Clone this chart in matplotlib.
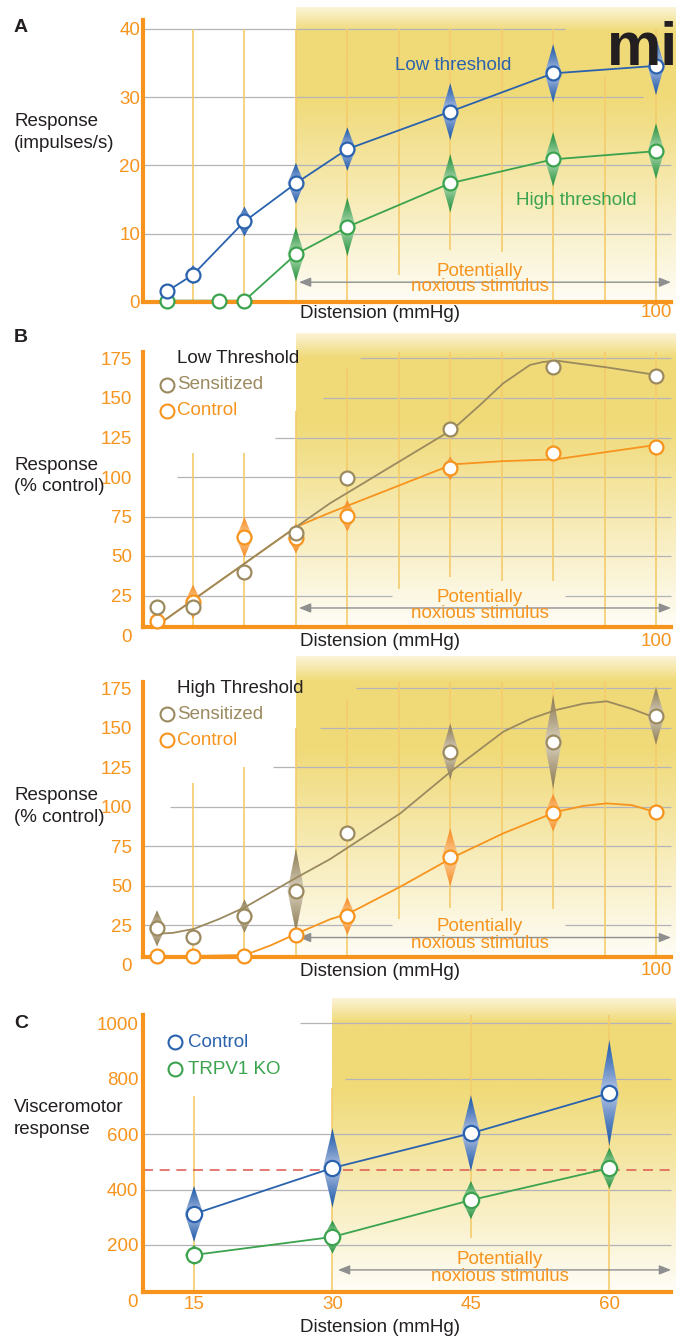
import numpy as np
import matplotlib
matplotlib.use('Agg')
import matplotlib.pyplot as plt
from matplotlib.patches import Polygon
from matplotlib.colors import to_rgb

plt.rcParams['font.family'] = ['Liberation Sans', 'DejaVu Sans']

# ---------------- data ----------------
# Panel A : afferent firing (impulses/s)
a_low_x = [5, 10, 20, 30, 40, 60, 80, 100]
a_low_y = [1.6, 4.0, 11.8, 17.4, 22.4, 27.9, 33.5, 34.6]
a_low_err = [0, 1.4, 2.2, 3.0, 3.2, 4.2, 4.3, 4.3]
a_high_x = [5, 15, 20, 30, 40, 60, 80, 100]
a_high_y = [0.2, 0.2, 0.2, 7.0, 11.0, 17.4, 20.9, 22.1]
a_high_err = [0, 0, 0, 4.0, 4.3, 4.3, 4.0, 4.1]
a_yticks = [0, 10, 20, 30, 40]
a_xticks = [100]

# Panel B : response (% control)
b_x = [3, 10, 20, 30, 40, 60, 80, 100]
bl_sens = [17.5, 17.9, 39.7, 64.8, 99.6, 130.2, 169.4, 164.1]
bl_sens_err = [0, 0, 0, 0, 0, 0, 0, 0]
bl_ctrl = [8.9, 21.0, 61.8, 61.2, 75.5, 105.5, 115.4, 119.2]
bl_ctrl_err = [0, 11, 13, 9.5, 10, 7.4, 0, 0]
bl_sens_fit_x = [3.6, 30.1, 36.6, 60.5, 65.8, 70.3, 75.5, 78.0, 80.7, 90.4, 100]
bl_sens_fit_y = [7.4, 68.5, 83.3, 130.2, 145.6, 159.3, 170.9, 172.8, 173.6, 169.4, 164.6]
bl_ctrl_fit_x = [3.6, 30.1, 36.6, 60.5, 70.0, 80.5, 100]
bl_ctrl_fit_y = [7.4, 68.5, 77.4, 108.0, 110.0, 111.2, 120.3]

bh_sens = [22.9, 17.6, 30.7, 46.8, 83.5, 134.9, 140.8, 157.5]
bh_sens_err = [11.5, 0, 10.6, 27, 0, 18, 30, 18.5]
bh_ctrl = [5.6, 5.6, 5.6, 18.7, 30.7, 67.9, 96.2, 96.5]
bh_ctrl_err = [0, 0, 0, 0, 12, 18.6, 12, 0]
bh_sens_fit_x = [2.8, 6.0, 10.2, 15.2, 20.1, 30.3, 36.6, 50.3, 60.5, 70.3, 75.5, 80.6, 85.9, 90.4, 95.3, 100.3]
bh_sens_fit_y = [19.5, 20.0, 22.6, 29.0, 36.3, 55.4, 66.7, 95.8, 123.3, 147.5, 155.6, 161.3, 165.3, 166.8, 162.0, 155.8]
bh_ctrl_fit_x = [3.0, 20.1, 25.0, 30.3, 36.6, 40.3, 50.3, 60.5, 70.3, 80.6, 85.9, 90.4, 95.3, 100.3]
bh_ctrl_fit_y = [5.0, 6.0, 12.0, 19.8, 28.6, 32.4, 49.3, 67.9, 83.1, 96.8, 100.5, 102.1, 101.0, 96.2]
b_yticks = [0, 25, 50, 75, 100, 125, 150, 175]
b_xticks = [100]

# Panel C : visceromotor response
c_x = [15, 30, 45, 60]
c_ctrl = [312, 478, 603, 748]
c_ctrl_err = [101, 144, 138, 192]
c_ko = [164, 229, 362, 477]
c_ko_err = [36, 60, 69, 75]
c_threshold = 470
c_yticks = [0, 200, 400, 600, 800, 1000]
c_xticks = [15, 30, 45, 60]

noxious_start = 30

# ---------------- style ----------------
W, H = 676, 1339
ORANGE = '#F7941D'
BLUE = '#2A62AD'
GREEN = '#3BA34E'
BROWN = '#9C8A5F'
DARK = '#231F20'
GRID = '#B3B3B8'
VLINE = '#F4CC6C'
ARROW = '#8F8F8F'
RED = '#E0625A'
FS = 13.5

fig = plt.figure(figsize=(W / 100, H / 100), dpi=100)


def fxy(x, y):
    return x / W, 1 - y / H


def make_panel(y0_px, ypx, ytop, x0_px, xpx, axis_val, left_px=143, right_px=W, end_px=671):
    xl = (left_px - x0_px) / xpx
    xr = (right_px - x0_px) / xpx
    top_px = y0_px - ytop * ypx
    ax = fig.add_axes([left_px / W, 1 - y0_px / H, (right_px - left_px) / W, (y0_px - top_px) / H])
    ax.set_xlim(xl, xr)
    ax.set_ylim(0, ytop)
    ax.patch.set_visible(False)
    for s in ['top', 'right']:
        ax.spines[s].set_visible(False)
    for s in ['left', 'bottom']:
        ax.spines[s].set_color(ORANGE)
        ax.spines[s].set_linewidth(3.0)
        ax.spines[s].set_zorder(4.5)
        ax.spines[s].set_capstyle('projecting')
    ax.spines['bottom'].set_position(('data', axis_val))
    ax.spines['bottom'].set_bounds(xl, (end_px - x0_px) / xpx)
    ax.spines['left'].set_bounds(axis_val, ytop)
    ax.tick_params(length=0, labelcolor=ORANGE, labelsize=13.5)
    ax.x_end = (end_px - x0_px) / xpx
    return ax


def shade(ax, x_start, ybot, ytop):
    n = 256
    f = np.linspace(0, 1, n)
    s = np.interp(f, [0, 0.08, 0.3, 1.0], [0.3, 1.0, 1.0, 0.05])
    peak = np.array(to_rgb('#F0DA78'))
    img = (1 - s)[:, None] * np.ones(3)[None, :] + s[:, None] * peak[None, :]
    ax.imshow(img[:, None, :], extent=(x_start, ax.get_xlim()[1], ybot, ytop), origin='upper',
              aspect='auto', interpolation='bilinear', zorder=0.5, clip_on=False)


def diamond(ax, x, y, err, dark, light, hw_px=8.5):
    if err <= 0:
        return
    xl = ax.get_xlim()
    pxx = ax.bbox.width / (xl[1] - xl[0])
    hw = hw_px / pxx
    s = np.linspace(0, 1, 25)
    w = hw * (1 - s) ** 1.05
    ur = [(x + wi, y + si * err) for wi, si in zip(w[::-1], s[::-1])]
    lr = [(x + wi, y - si * err) for wi, si in zip(w, s)]
    ll = [(x - wi, y - si * err) for wi, si in zip(w[::-1], s[::-1])]
    ul = [(x - wi, y + si * err) for wi, si in zip(w, s)]
    poly = Polygon(ur + lr + ll + ul, closed=True, transform=ax.transData)
    t = np.abs(np.linspace(-1, 1, 101))
    fr = t ** 0.75
    d = np.array(to_rgb(dark))
    l = np.array(to_rgb(light))
    img = l[None, :] * (1 - fr[:, None]) + d[None, :] * fr[:, None]
    im = ax.imshow(img[:, None, :], extent=(x - hw, x + hw, y - err, y + err), origin='lower',
                   aspect='auto', interpolation='bilinear', zorder=3)
    im.set_clip_path(poly)


def series(ax, x, y, err, color, dark, light, fitx=None, fity=None, ms=10, hw=8.5):
    for xi, yi, ei in zip(x, y, err):
        diamond(ax, xi, yi, ei, dark, light, hw)
    if fitx is None:
        ax.plot(x, y, color=color, lw=1.3, zorder=4, clip_on=False)
    else:
        ax.plot(fitx, fity, color=color, lw=1.3, zorder=4, clip_on=False)
    ax.plot(x, y, 'o', ls='none', ms=ms, mfc='white', mec=color, mew=1.6, zorder=5, clip_on=False)


def guides(ax, hl, vl):
    xl = ax.get_xlim()[0]
    for y, a, b in hl:
        ax.hlines(y, xl if a is None else a, ax.x_end if b is None else b, color=GRID, lw=0.9, zorder=1)
    for x, a, b in vl:
        ax.vlines(x, a, b, color=VLINE, lw=1.2, zorder=1.2)


def noxious(ax, y_arrow, xc, y1, y2):
    ax.annotate('', xy=(ax.x_end, y_arrow), xytext=(noxious_start + 0.6, y_arrow),
                arrowprops=dict(arrowstyle='<|-|>,head_length=0.5,head_width=0.2', color=ARROW, lw=1.0,
                                shrinkA=0, shrinkB=0, mutation_scale=14),
                zorder=2, annotation_clip=False)
    ax.text(xc, y1, 'Potentially', color=ORANGE, fontsize=FS, ha='center', va='center', zorder=2.5)
    ax.text(xc, y2, 'noxious stimulus', color=ORANGE, fontsize=FS, ha='center', va='center', zorder=2.5)


# ================= Panel A =================
axA = make_panel(302, 6.825, 41.3, 141.6, 5.144, 0)
shade(axA, noxious_start, -0.6, 43.1)
guides(axA,
       [(10, None, None), (20, None, None), (30, None, 97.5), (40, None, 82.3)],
       [(10, 0, 40), (20, 0, 40), (30, 0, 40), (40, 0, 40), (50, 4, 40), (60, 7.6, 40),
        (70, 7.3, 40), (80, 0, 40), (90, 0, 33), (100, 0, 40)])
noxious(axA, 2.9, 65.8, 4.4, 2.2)
series(axA, a_high_x, a_high_y, a_high_err, GREEN, '#22903C', '#CFEAC9')
series(axA, a_low_x, a_low_y, a_low_err, BLUE, '#1C58A8', '#C8D2EC')
axA.set_yticks(a_yticks)
axA.set_xticks(a_xticks)
axA.tick_params(axis='y', pad=2)
axA.tick_params(axis='x', pad=1.5)
axA.text(60.5, 34.7, 'Low threshold', color=BLUE, fontsize=FS, ha='center', va='center', zorder=2.5)
axA.text(84.6, 14.9, 'High threshold', color=GREEN, fontsize=FS, ha='center', va='center', zorder=2.5)

# ================= Panel B (low) =================
axB1 = make_panel(635, 1.58, 179, 141.6, 5.144, 5)
shade(axB1, noxious_start, 3.2, 191)
bvl = [(10, 5, 115), (20, 5, 115), (30, 5, 142), (40, 5, 169), (50, 29, 180), (60, 37, 180),
       (70, 34, 180), (80, 34, 180), (90, 5, 180), (100, 5, 180)]
guides(axB1,
       [(25, None, 48.7), (25, 82.3, None), (50, None, None), (75, None, None),
        (100, 6.9, None), (125, 25.9, None), (150, 35.3, None), (175, 42.5, None)], bvl)
noxious(axB1, 17.1, 65.8, 24.0, 13.5)
series(axB1, b_x, bl_ctrl, bl_ctrl_err, ORANGE, '#F68A1F', '#FDDDB8', bl_ctrl_fit_x, bl_ctrl_fit_y)
series(axB1, b_x, bl_sens, bl_sens_err, BROWN, '#8C7A52', '#E4DDCD', bl_sens_fit_x, bl_sens_fit_y)
axB1.set_yticks(b_yticks)
axB1.set_xticks(b_xticks)
axB1.tick_params(axis='y', pad=8)
axB1.tick_params(axis='x', pad=4)

# ================= Panel B (high) =================
axB2 = make_panel(964.5, 1.578, 179, 141.6, 5.144, 5)
shade(axB2, noxious_start, 2.9, 195)
bvl2 = [(10, 5, 115), (20, 5, 125), (30, 5, 150), (40, 5, 169), (50, 29, 180), (60, 36, 180),
        (70, 34, 180), (80, 35, 180), (90, 5, 180), (100, 5, 176)]
guides(axB2,
       [(25, None, 48.7), (25, 82.3, None), (50, None, None), (75, None, None),
        (100, 5.5, None), (125, 25.5, None), (150, 34.7, None), (175, 41.7, None)], bvl2)
noxious(axB2, 17.1, 65.8, 24.0, 13.6)
series(axB2, b_x, bh_ctrl, bh_ctrl_err, ORANGE, '#F68A1F', '#FDDDB8', bh_ctrl_fit_x, bh_ctrl_fit_y)
series(axB2, b_x, bh_sens, bh_sens_err, BROWN, '#8C7A52', '#E4DDCD', bh_sens_fit_x, bh_sens_fit_y)
axB2.set_yticks(b_yticks)
axB2.set_xticks(b_xticks)
axB2.tick_params(axis='y', pad=8)
axB2.tick_params(axis='x', pad=4)

# legends for B
for ax, title in [(axB1, 'Low Threshold'), (axB2, 'High Threshold')]:
    ax.text(6.9, 175, title, color=DARK, fontsize=FS, ha='left', va='center', zorder=6)
    ax.plot([4.9], [158.5], 'o', ms=10, mfc='white', mec=BROWN, mew=1.5, clip_on=False, zorder=6)
    ax.text(6.9, 158.5, 'Sensitized', color=BROWN, fontsize=FS, ha='left', va='center', zorder=6)
    ax.plot([4.9], [142], 'o', ms=10, mfc='white', mec=ORANGE, mew=1.5, clip_on=False, zorder=6)
    ax.text(6.9, 142, 'Control', color=ORANGE, fontsize=FS, ha='left', va='center', zorder=6)

# ================= Panel C =================
axC = make_panel(1300.4, 0.2771, 1030, 55.6, 9.229, 30)
shade(axC, noxious_start, 23, 1091)
guides(axC,
       [(200, None, None), (400, None, None), (600, None, None), (800, 31.4, None), (1000, 26.5, None)],
       [(15, 30, 737), (30, 30, 766), (45, 225, 1029), (60, 30, 1029)])
axC.hlines(c_threshold, axC.get_xlim()[0], axC.get_xlim()[1], color=RED, lw=1.2,
           linestyles=(0, (6, 4)), zorder=2)
noxious(axC, 110, 48.1, 148, 88)
series(axC, c_x, c_ko, c_ko_err, GREEN, '#22903C', '#CFEAC9', ms=11, hw=9.5)
series(axC, c_x, c_ctrl, c_ctrl_err, BLUE, '#1C58A8', '#C8D2EC', ms=11, hw=9.5)
axC.set_yticks(c_yticks)
axC.set_xticks(c_xticks)
axC.tick_params(axis='y', pad=3.5)
axC.tick_params(axis='x', pad=2.5)
axC.plot([12.9], [931.5], 'o', ms=10, mfc='white', mec=BLUE, mew=1.5, clip_on=False, zorder=6)
axC.text(14.35, 931.5, 'Control', color=BLUE, fontsize=FS, ha='left', va='center', zorder=6)
axC.plot([12.9], [834], 'o', ms=10, mfc='white', mec=GREEN, mew=1.5, clip_on=False, zorder=6)
axC.text(14.35, 834, 'TRPV1 KO', color=GREEN, fontsize=FS, ha='left', va='center', zorder=6)

# ================= figure texts =================
for y, lab in [(27, 'A'), (338, 'B'), (1023, 'C')]:
    fig.text(*fxy(14, y), lab, fontsize=14, fontweight='bold', color=DARK, ha='left', va='center')
for y, lab in [(122, 'Response'), (144, '(impulses/s)'),
               (465, 'Response'), (487, '(% control)'),
               (795, 'Response'), (817, '(% control)'),
               (1108, 'Visceromotor'), (1130, 'response')]:
    fig.text(*fxy(14, y), lab, fontsize=FS, color=DARK, ha='left', va='center')
for y in [314, 642, 972, 1327]:
    fig.text(*fxy(380, y), 'Distension (mmHg)', fontsize=FS, color=DARK, ha='center', va='center')

# logo
fig.text(*fxy(607, 65), 'mi', fontsize=44, fontweight='bold', color=DARK, ha='left', va='baseline', zorder=10)

fig.savefig('out.png', dpi=100)
